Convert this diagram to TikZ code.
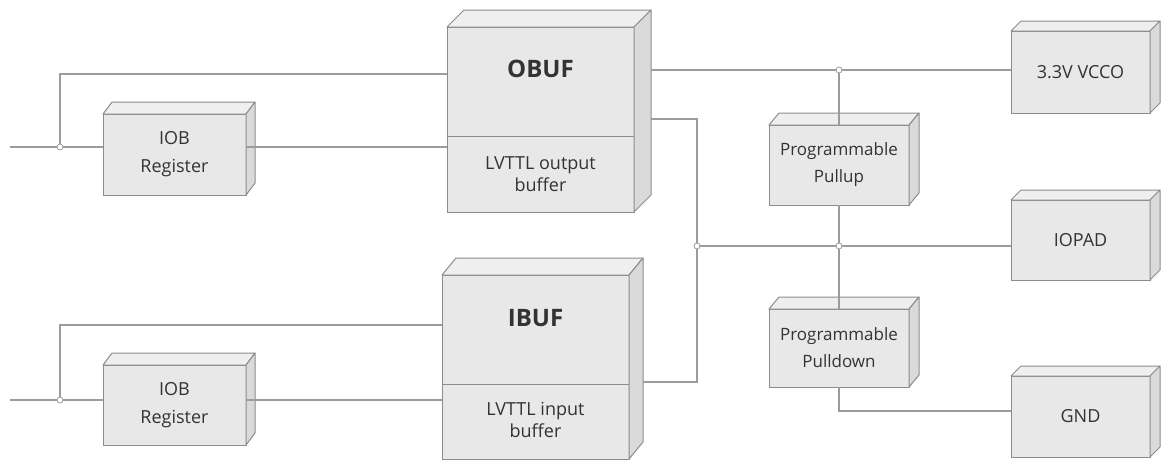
\documentclass[tikz,border=0pt]{standalone}
\usepackage{fontspec}
\setmainfont{Open Sans}
\usetikzlibrary{calc}
\definecolor{wire}{HTML}{9C9C9C}
\definecolor{edge}{HTML}{8C8C8C}
\definecolor{frontc}{HTML}{E8E8E8}
\definecolor{topc}{HTML}{EFEFEF}
\definecolor{sidec}{HTML}{DADADA}
\definecolor{txt}{HTML}{333333}
\newcommand\boxfaces[3]{%
  \filldraw[fill=topc,draw=edge,line width=1pt,line join=round]
    (#1.north west) -- ($(#1.north west)+(#2,-#3)$) -- ($(#1.north east)+(#2,-#3)$) -- (#1.north east) -- cycle;
  \filldraw[fill=sidec,draw=edge,line width=1pt,line join=round]
    (#1.north east) -- ($(#1.north east)+(#2,-#3)$) -- ($(#1.south east)+(#2,-#3)$) -- (#1.south east) -- cycle;
}
\tikzset{
  box/.style={draw=edge, fill=frontc, line width=1pt, inner sep=0pt, outer sep=0pt, align=center,
    text=txt, font=\fontsize{18}{28}\selectfont},
  wireline/.style={draw=wire, line width=1.1pt},
  junc/.style={circle, draw=wire, fill=white, line width=0.8pt, minimum size=6pt, inner sep=0pt},
  lbl/.style={text=txt, align=center, font=\fontsize{18}{22}\selectfont},
  big/.style={text=txt, font=\fontsize{24}{26}\selectfont\bfseries}
}
\begin{document}
\begin{tikzpicture}[x=1pt,y=-1pt]
\useasboundingbox (0,0) rectangle (1162,461);
% small boxes
\node[box, minimum width=143pt, minimum height=81pt] (iob1) at (174.5,154.5) {IOB\\Register};
\boxfaces{iob1}{9}{12}
\node[box, minimum width=143pt, minimum height=80pt] (iob2) at (174.5,405) {IOB\\Register};
\boxfaces{iob2}{9}{12}
\node[box, minimum width=140pt, minimum height=80pt, font=\fontsize{17}{27}\selectfont] (pullup) at (839,165) {Programmable\\Pullup};
\boxfaces{pullup}{10}{12}
\node[box, minimum width=140pt, minimum height=78pt, font=\fontsize{17}{27}\selectfont] (pulldown) at (839,348) {Programmable\\Pulldown};
\boxfaces{pulldown}{10}{12}
\node[box, minimum width=139pt, minimum height=82pt] (vcco) at (1080.5,72) {3.3V VCCO};
\boxfaces{vcco}{10}{10}
\node[box, minimum width=139pt, minimum height=80pt] (iopad) at (1080.5,240) {IOPAD};
\boxfaces{iopad}{10}{10}
\node[box, minimum width=139pt, minimum height=81pt] (gnd) at (1080.5,416.5) {GND};
\boxfaces{gnd}{10}{10}
% big boxes
\node[box, minimum width=187pt, minimum height=185pt] (obuf) at (540.5,119.5) {};
\boxfaces{obuf}{17}{17}
\draw[edge, line width=1pt] (447,136) coordinate (od1) -- (634,136) coordinate (od2);
\node[big] (obuft) at (540.5,69) {OBUF};
\node[lbl] (obufs) at (540.5,174) {LVTTL output\\buffer};
\node[box, minimum width=187pt, minimum height=184pt] (ibuf) at (535.5,367) {};
\boxfaces{ibuf}{14}{17}
\draw[edge, line width=1pt] (442,384) coordinate (id1) -- (629,384) coordinate (id2);
\node[big] (ibuft) at (535.5,318) {IBUF};
\node[lbl] (ibufs) at (535.5,420) {LVTTL input\\buffer};
% coordinates
\coordinate (in1) at (10,147);
\coordinate (j1) at (60,147);
\coordinate (in2) at (10,400);
\coordinate (j3) at (60,400);
\coordinate (jv) at (839,70);
\coordinate (jm) at (697,246);
\coordinate (jp) at (839,246);
% wires top
\draw[wireline] (in1) -- (j1) -- (j1 -| iob1.west);
\draw[wireline] (j1) -- (60,74) -- (447,74);
\draw[wireline] (iob1.east |- j1) -- (447,147);
\draw[wireline] (651,70) -- (jv) -- (vcco.west |- jv);
\draw[wireline] (jv) -- (pullup.north);
\draw[wireline] (pullup.south) -- (jp) -- (pulldown.north);
\draw[wireline] (651,119) -- (697,119) -- (697,382) -- (643,382);
\draw[wireline] (jm) -- (jp) -- (iopad.west |- jp);
\draw[wireline] (pulldown.south) -- (839,411) -- (gnd.west |- 0,411);
% wires bottom
\draw[wireline] (in2) -- (j3) -- (j3 -| iob2.west);
\draw[wireline] (j3) -- (60,325) -- (442,325);
\draw[wireline] (iob2.east |- j3) -- (442,400);
% junctions
\foreach \j in {j1,j3,jv,jm,jp} \node[junc] at (\j) {};
\end{tikzpicture}
\end{document}
